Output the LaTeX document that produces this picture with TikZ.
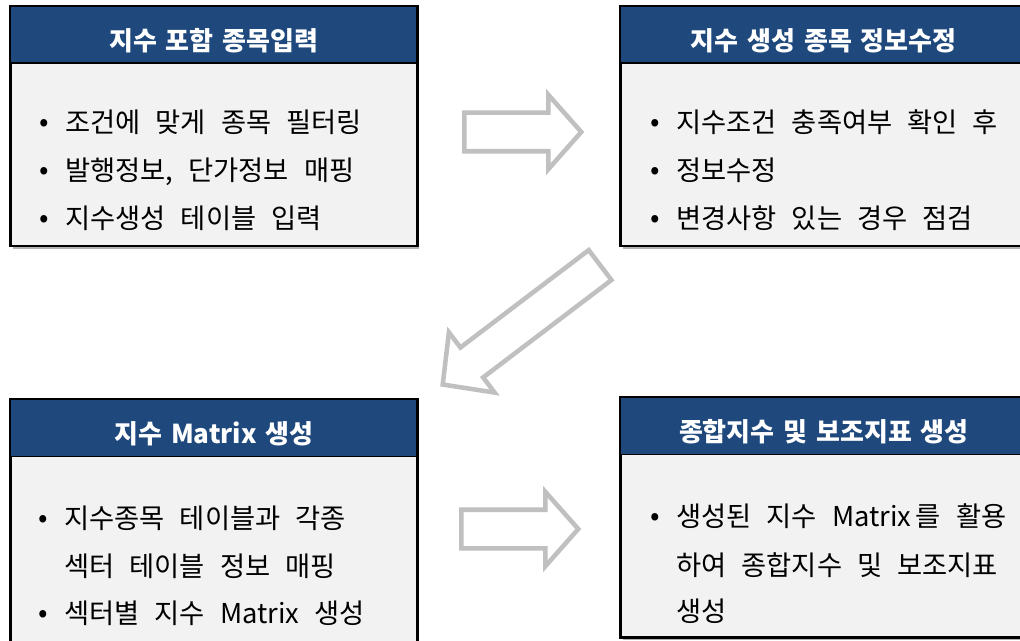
\documentclass[tikz,border=0pt]{standalone}
\usepackage{fontspec}
\setmainfont{Noto Sans CJK KR}
\newfontfamily\headfont{Noto Sans CJK KR}
\usetikzlibrary{shapes.arrows,shadows}
\definecolor{HeadBlue}{RGB}{31,73,125}
\definecolor{BodyGray}{RGB}{242,242,242}
\definecolor{ArrowGray}{RGB}{192,192,192}
\newcommand{\HeadFont}{\headfont\bfseries\fontsize{19.5}{21}\selectfont\spaceskip 0.34em\relax}
\newcommand{\ItemFont}{\fontsize{20.5}{24}\selectfont\spaceskip 0.55em\relax}
\newcommand{\bul}{\llap{\makebox[31.5pt][c]{\fontsize{21}{21}\selectfont\raisebox{0.5pt}{•}}}}

\begin{document}
\begin{tikzpicture}[x=0.75pt,y=-0.75pt,line join=miter
  ,bodybox/.style={rectangle,draw=black,line width=2.2pt,fill=BodyGray
    ,anchor=north west,inner sep=0pt,outer sep=0pt
    ,minimum width=305pt,minimum height=180pt
    ,drop shadow={shadow xshift=1.5pt,shadow yshift=-2pt,fill=black!30,opacity=1}}
  ,headbox/.style={rectangle,draw=black,line width=1.2pt,fill=HeadBlue
    ,anchor=north west,inner sep=0pt,outer sep=0pt
    ,minimum width=305pt,minimum height=42.75pt
    ,text=white,text height=23.5pt,text depth=0pt,font=\HeadFont}
  ,item/.style={anchor=base west,inner sep=0pt,font=\ItemFont}
  ,flowarrow/.style={single arrow,draw=ArrowGray,fill=white,line width=3.4pt
    ,inner xsep=0pt,inner ysep=12.75pt,single arrow head extend=13.5pt
    ,single arrow tip angle=97,minimum height=87.75pt,anchor=tail}]
  \useasboundingbox (0,0) rectangle (1020,641);
  \clip (0,0) rectangle (1020,641);
  % step 1
  \node[bodybox] (b1) at (10.5,6) {};
  \node[headbox] (h1) at (b1.north west) {지수 포함 종목입력};
  \node[item] (t11) at (65,132.5) {\bul 조건에 맞게 종목 필터링};
  \node[item] (t12) at (65,180.5) {\bul 발행정보, 단가정보 매핑};
  \node[item] (t13) at (65,228.5) {\bul 지수생성 테이블 입력};
  % step 2
  \node[bodybox] (b2) at (620.5,6) {};
  \node[headbox] (h2) at (b2.north west) {지수 생성 종목 정보수정};
  \node[item] (t21) at (676,132.5) {\bul 지수조건 충족여부 확인 후};
  \node[item] (t22) at (676,180.5) {\bul 정보수정};
  \node[item] (t23) at (676,228.5) {\bul 변경사항 있는 경우 점검};
  % step 3
  \node[bodybox,minimum height=186pt] (b3) at (10.5,399.5) {};
  \node[headbox] (h3) at (b3.north west) {지수 Matrix 생성};
  \node[item] (t31) at (64,528.5) {\bul 지수종목 테이블과 각종};
  \node[item] (t32) at (64,576.5) {섹터 테이블 정보 매핑};
  \node[item] (t33) at (64,623.5) {\bul 섹터별 지수 Matrix 생성};
  % step 4
  \node[bodybox] (b4) at (620.5,397.5) {};
  \node[headbox] (h4) at (b4.north west) {종합지수 및 보조지표 생성};
  \node[item] (t41) at (676,526.5) {\bul 생성된 지수 Matrix\,를 활용};
  \node[item] (t42) at (676,575.5) {하여 종합지수 및 보조지표};
  \node[item] (t43) at (676,621.5) {생성};
  % arrows
  \node[flowarrow] (a1) at (462,132) {};
  \node[flowarrow] (a2) at (459,529) {};
  \node[flowarrow,rotate=217.2,minimum height=148.2pt,inner ysep=12.4pt
    ,single arrow head extend=14.25pt,single arrow tip angle=92] (a3) at (601.9,263.7) {};
\end{tikzpicture}
\end{document}
